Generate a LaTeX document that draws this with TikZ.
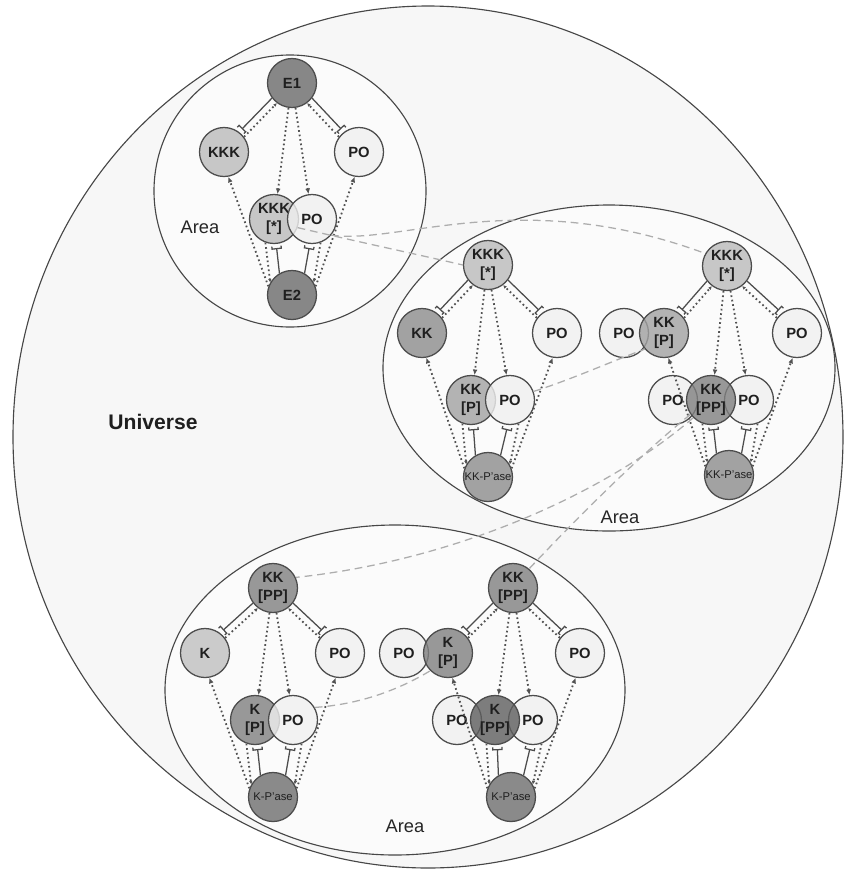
\documentclass[tikz,border=0pt]{standalone}
\usepackage{fontspec}
\setmainfont{Liberation Sans}
\usetikzlibrary{arrows.meta}

\begin{document}
\begin{tikzpicture}[x=0.025cm, y=-0.025cm,
	mol/.style={circle, draw=black!70, line width=0.9pt, minimum size=1.225cm, inner sep=0pt,
		fill opacity=0.8, text opacity=1, text=black!88, align=center,
		font=\bfseries\fontsize{10.5}{12.5}\selectfont},
	pase/.style={mol, font=\fontsize{8}{9}\selectfont},
	bind/.style={draw=black!70, line width=0.9pt, shorten >=1.5pt, -{Bracket[reversed, width=7.5pt, length=1.8pt]}},
	back/.style={draw=black!68, line width=1.3pt, dash pattern=on 1.2pt off 2pt, -{Latex[length=2.5pt, width=2.5pt]}},
	act/.style={draw=black!68, line width=1.3pt, dash pattern=on 1.2pt off 2pt, -{Latex[length=4pt, width=3.5pt]}},
	link/.style={draw=black!32, line width=0.9pt, dash pattern=on 5.5pt off 3.5pt},
	area/.style={draw=black!72, line width=0.8pt, fill=black!1.5},
	tag/.style={text=black!85, font=\fontsize{13}{15}\selectfont}]
	\useasboundingbox (0,0) rectangle (844,871);
	% universe and the three areas
	\draw[draw=black!72, line width=0.8pt, fill=black!3] (428,437) ellipse [x radius=415, y radius=431];
	\node[text=black!88, font=\bfseries\fontsize{15}{18}\selectfont] (universe) at (153,422) {Universe};
	\draw[area] (290,191) circle [radius=136];
	\draw[area] (609,368) ellipse [x radius=226, y radius=163];
	\draw[area] (395,690) ellipse [x radius=230, y radius=165];
	\node[tag] (area1) at (200,227) {Area};
	\node[tag] (area2) at (620,517) {Area};
	\node[tag] (area3) at (405,826) {Area};
	% first stage: E1 / E2 on KKK
	\node[mol, fill=black!58] (m1-top) at (292,83) {E1};
	\node[mol, fill=black!27] (m1-left) at (224,152) {KKK};
	\node[mol, fill=black!6] (m1-right) at (359,152) {PO};
	\node[mol, fill=black!27] (m1-p1) at (274,219) {KKK\\{[*]}};
	\node[mol, fill=black!6] (m1-p2) at (312,219) {PO};
	\node[mol, fill=black!58] (m1-bot) at (292,295) {E2};
	% second stage: KKK[*] on KK, single and double
	\node[mol, fill=black!27] (m2-top) at (488,265) {KKK\\{[*]}};
	\node[mol, fill=black!45] (m2-left) at (422,333) {KK};
	\node[mol, fill=black!6] (m2-right) at (557,333) {PO};
	\node[mol, fill=black!37] (m2-p1) at (471,400) {KK\\{[P]}};
	\node[mol, fill=black!6] (m2-p2) at (510,400) {PO};
	\node[pase, fill=black!45] (m2-bot) at (488,477) {KK-P'ase};
	\node[mol, fill=black!6] (m3-po1) at (624,333) {PO};
	\node[mol, fill=black!6] (m3-po2) at (673,400) {PO};
	\node[mol, fill=black!27] (m3-top) at (727,266) {KKK\\{[*]}};
	\node[mol, fill=black!37] (m3-left) at (664,333) {KK\\{[P]}};
	\node[mol, fill=black!6] (m3-right) at (797,333) {PO};
	\node[mol, fill=black!6] (m3-p2) at (749,400) {PO};
	\node[mol, fill=black!50] (m3-p1) at (711,400) {KK\\{[PP]}};
	\node[pase, fill=black!45] (m3-bot) at (729,475) {KK-P'ase};
	% third stage: KK[PP] on K, single and double
	\node[mol, fill=black!50] (m4-top) at (273,588) {KK\\{[PP]}};
	\node[mol, fill=black!25] (m4-left) at (205,653) {K};
	\node[mol, fill=black!6] (m4-right) at (340,653) {PO};
	\node[mol, fill=black!50] (m4-p1) at (255,720) {K\\{[P]}};
	\node[mol, fill=black!6] (m4-p2) at (293,720) {PO};
	\node[pase, fill=black!57] (m4-bot) at (273,797) {K-P'ase};
	\node[mol, fill=black!6] (m5-po1) at (404,653) {PO};
	\node[mol, fill=black!6] (m5-po2) at (457,720) {PO};
	\node[mol, fill=black!50] (m5-top) at (513,588) {KK\\{[PP]}};
	\node[mol, fill=black!50] (m5-left) at (448,653) {K\\{[P]}};
	\node[mol, fill=black!6] (m5-right) at (580,653) {PO};
	\node[mol, fill=black!6] (m5-p2) at (533,720) {PO};
	\node[mol, fill=black!63] (m5-p1) at (495,720) {K\\{[PP]}};
	\node[pase, fill=black!57] (m5-bot) at (511,797) {K-P'ase};
	% binding, unbinding and catalysis in every motif
	\foreach \m in {m1,m2,m3,m4,m5} {
		\draw[bind] (\m-top.217) -- (\m-left.53);
		\draw[back] (\m-left.37) -- (\m-top.233);
		\draw[bind] (\m-top.323) -- (\m-right.127);
		\draw[back] (\m-right.143) -- (\m-top.307);
		\draw[act] (\m-top.262) -- (\m-p1.82);
		\draw[act] (\m-top.278) -- (\m-p2.98);
		\draw[bind] (\m-bot.120) -- (\m-p1.275);
		\draw[back] (\m-p1.250) -- (\m-bot.150);
		\draw[bind] (\m-bot.60) -- (\m-p2.265);
		\draw[back] (\m-p2.290) -- (\m-bot.30);
		\draw[act] (\m-bot.160) -- (\m-left.280);
		\draw[act] (\m-bot.20) -- (\m-right.260);
	}
	% products carried over between areas
	\draw[link] (m1-p1.-20) .. controls (350,240) and (420,255) .. (m2-top.180);
	\draw[link] (m1-p2.-40) .. controls (400,245) and (520,185) .. (m3-top.150);
	\draw[link] (m2-p2.20) .. controls (570,380) and (610,362) .. (m3-left.220);
	\draw[link] (m3-p1.225) .. controls (610,490) and (460,560) .. (m4-top.25);
	\draw[link] (m3-p1.215) .. controls (640,455) and (575,520) .. (m5-top.50);
	\draw[link] (m4-p2.30) .. controls (350,705) and (390,695) .. (m5-left.225);
\end{tikzpicture}
\end{document}
